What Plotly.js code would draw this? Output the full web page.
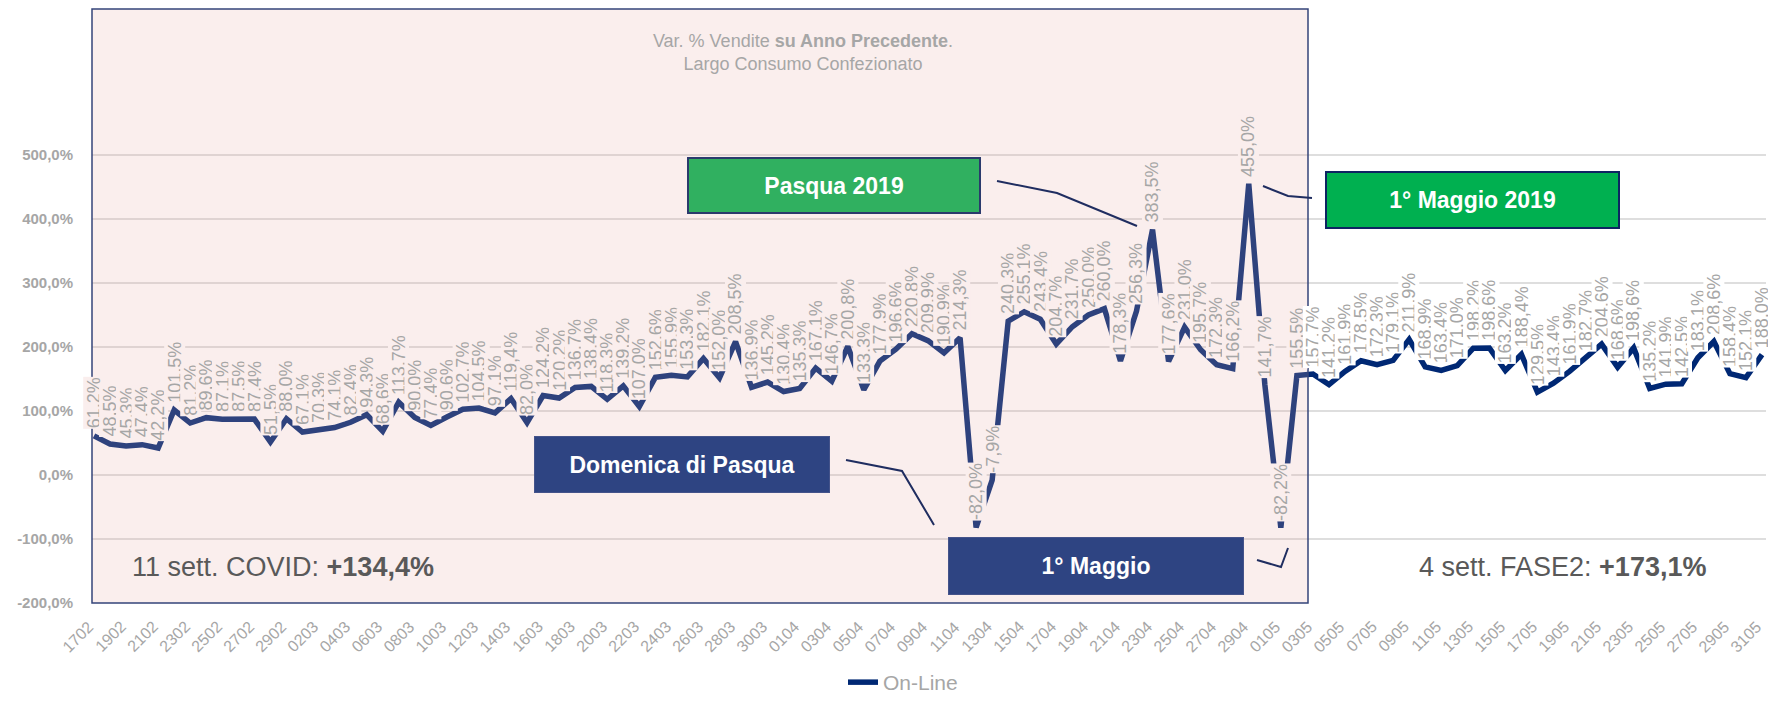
<!DOCTYPE html>
<html>
<head>
<meta charset="utf-8">
<script src="https://cdn.plot.ly/plotly-3.0.1.min.js"></script>
<style>
html,body{margin:0;padding:0;background:#ffffff;}
#chart{width:1768px;height:703px;}
</style>
</head>
<body>
<div id="chart"></div>
<script>
// ---- DATA ----
const days = [
  '1702','1802','1902','2002','2102','2202','2302','2402','2502','2602','2702','2802','2902',
  '0103','0203','0303','0403','0503','0603','0703','0803','0903','1003','1103','1203','1303','1403','1503','1603','1703','1803','1903','2003','2103','2203','2303','2403','2503','2603','2703','2803','2903','3003','3103',
  '0104','0204','0304','0404','0504','0604','0704','0804','0904','1004','1104','1204','1304','1404','1504','1604','1704','1804','1904','2004','2104','2204','2304','2404','2504','2604','2704','2804','2904','3004',
  '0105','0205','0305','0405','0505','0605','0705','0805','0905','1005','1105','1205','1305','1405','1505','1605','1705','1805','1905','2005','2105','2205','2305','2405','2505','2605','2705','2805','2905','3005','3105'
];
const online = [
  61.2, 48.5, 45.3, 47.4, 42.2, 101.5, 81.2, 89.6, 87.1, 87.5, 87.4, 51.5, 88.0,
  67.1, 70.3, 74.1, 82.4, 94.3, 68.6, 113.7, 90.0, 77.4, 90.6, 102.7, 104.5, 97.1, 119.4, 82.0,
  124.2, 120.2, 136.7, 138.4, 118.3, 139.2, 107.0, 152.6, 155.9, 153.3, 182.1, 152.0, 208.5, 136.9, 145.2, 130.4,
  135.3, 167.1, 146.7, 200.8, 133.3, 177.9, 196.6, 220.8, 209.9, 190.9, 214.3, -82.0, -7.9, 240.3, 255.1, 243.4,
  204.7, 231.7, 250.0, 260.0, 178.3, 256.3, 383.5, 177.6, 231.0, 195.7, 172.3, 166.2, 455.0, 141.7,
  -82.2, 155.5, 157.7, 141.2, 161.9, 178.5, 172.3, 179.1, 211.9, 168.9, 163.4, 171.0, 198.2, 198.6, 163.2,
  188.4, 129.5, 143.4, 161.9, 182.7, 204.6, 168.6, 198.6, 135.2, 141.9, 142.5, 183.1, 208.6, 158.4, 152.1, 188.0
];
const seriesName = 'On-Line';
const yTickVals = [-200, -100, 0, 100, 200, 300, 400, 500];
const yTickText = ['-200,0%', '-100,0%', '0,0%', '100,0%', '200,0%', '300,0%', '400,0%', '500,0%'];
const covidDays = 76; // points inside the shaded COVID period
const titleLines = ['Var. % Vendite <b>su Anno Precedente</b>.', 'Largo Consumo Confezionato'];
const summaryCovid = '11 sett. COVID: <b>+134,4%</b>';
const summaryFase2 = '4 sett. FASE2: <b>+173,1%</b>';
const boxLabels = ['Pasqua 2019', '1° Maggio 2019', 'Domenica di Pasqua', '1° Maggio'];

// category positions (index of each day) and every-other-day tick labels
const xIdx = days.map((d, i) => i);
const tickIdx = xIdx.filter(i => i % 2 === 0);
const tickDays = tickIdx.map(i => days[i]);

// ---- LAYOUT HELPERS (pixel -> paper) ----
const W = 1768, H = 703;
const M = {l: 92, r: 2, t: 9, b: 100};
const PW = W - M.l - M.r, PH = H - M.t - M.b;
const px = x => (x - M.l) / PW;
const py = y => (H - M.b - y) / PH;
const FONT = 'Liberation Sans, Arial, sans-serif';
const fmt = v => v.toFixed(1).replace('.', ',') + '%';

const annotations = [];

// data labels (vertical, above each point)
online.forEach((v, i) => {
  annotations.push({
    x: xIdx[i], y: v, xref: 'x', yref: 'y',
    text: fmt(v), textangle: -90, showarrow: false,
    xanchor: 'center', yanchor: 'bottom', yshift: 6,
    font: {family: FONT, size: 18, color: '#a6a6a6'},
    bgcolor: i < covidDays ? '#faeeed' : '#ffffff', borderpad: 0
  });
});

// slanted category labels under the x axis (every other day)
tickIdx.forEach((xi, k) => {
  annotations.push({
    x: xi, y: 0, xref: 'x', yref: 'paper',
    text: tickDays[k], textangle: -45, showarrow: false,
    xanchor: 'right', yanchor: 'top', xshift: 6, yshift: -12,
    font: {family: FONT, size: 16, color: '#a6a6a6'}
  });
});

function box(text, x0, y0, x1, y1, fill, border, bw) {
  annotations.push({
    xref: 'paper', yref: 'paper',
    x: px((x0 + x1) / 2), y: py((y0 + y1) / 2),
    xanchor: 'center', yanchor: 'middle', showarrow: false,
    text: '<b>' + text + '</b>',
    width: (x1 - x0) - 2 * bw, height: (y1 - y0) - 2 * bw,
    bgcolor: fill, bordercolor: border, borderwidth: bw, borderpad: 0,
    font: {family: FONT, size: 23, color: '#ffffff'}, align: 'center', valign: 'middle'
  });
}
box(boxLabels[0], 687, 157, 981, 214, '#30b060', '#2a3a6c', 2);
box(boxLabels[1], 1325, 171, 1620, 229, '#00b050', '#0d2462', 2);
box(boxLabels[2], 534, 436, 830, 493, '#2e4482', '#44538a', 1);
box(boxLabels[3], 948, 537, 1244, 595, '#2e4482', '#44538a', 1);

annotations.push({
  xref: 'paper', yref: 'paper', x: px(283), y: py(567), xanchor: 'center', yanchor: 'middle',
  showarrow: false, text: summaryCovid, font: {family: FONT, size: 27, color: '#595959'}
});
annotations.push({
  xref: 'paper', yref: 'paper', x: px(1562), y: py(567), xanchor: 'center', yanchor: 'middle',
  showarrow: false, text: summaryFase2, font: {family: FONT, size: 27, color: '#595959'}
});

function path(pts) {
  return 'M' + pts.map(p => px(p[0]).toFixed(5) + ',' + py(p[1]).toFixed(5)).join(' L');
}
const shapes = [
  {type: 'rect', xref: 'paper', yref: 'paper', layer: 'above',
   x0: 0, x1: px(1308), y0: py(603), y1: py(9),
   fillcolor: 'rgba(230,170,165,0.2)', line: {width: 0}},
  {type: 'rect', xref: 'paper', yref: 'paper', layer: 'above',
   x0: 0, x1: px(1308), y0: py(603), y1: py(9),
   fillcolor: 'rgba(0,0,0,0)', line: {color: '#34447a', width: 1.5}},
  {type: 'path', xref: 'paper', yref: 'paper', layer: 'above',
   path: path([[997, 181], [1057, 193], [1137, 226]]), line: {color: '#1f2d60', width: 2}},
  {type: 'path', xref: 'paper', yref: 'paper', layer: 'above',
   path: path([[1263, 186], [1288, 196], [1312, 198]]), line: {color: '#1f2d60', width: 2}},
  {type: 'path', xref: 'paper', yref: 'paper', layer: 'above',
   path: path([[846, 460], [902, 471], [934, 525]]), line: {color: '#1f2d60', width: 2}},
  {type: 'path', xref: 'paper', yref: 'paper', layer: 'above',
   path: path([[1257, 560], [1281, 567], [1288, 548]]), line: {color: '#1f2d60', width: 2}}
];

const trace = {
  type: 'scatter', mode: 'lines', name: seriesName,
  x: xIdx, y: online,
  line: {color: '#002874', width: 5.5},
  hoverinfo: 'skip'
};

const yTop = -200 + PH / 64 * 100;

const layout = {
  width: W, height: H,
  margin: M,
  paper_bgcolor: '#ffffff', plot_bgcolor: '#ffffff',
  font: {family: FONT},
  title: {
    text: titleLines.join('<br>'),
    xref: 'container', yref: 'container',
    x: 803 / W, xanchor: 'center', y: 1 - 47 / H, yanchor: 'top',
    font: {family: FONT, size: 18, color: '#a6a6a6'}
  },
  xaxis: {
    type: 'linear', range: [-0.125, 104.25],
    tickmode: 'array', tickvals: tickIdx, ticktext: tickDays,
    showticklabels: false, ticks: '',
    showgrid: false, showline: false, zeroline: false
  },
  yaxis: {
    range: [-200, yTop],
    tickmode: 'array', tickvals: yTickVals, ticktext: yTickText,
    tickfont: {family: FONT, size: 15, color: '#a6a6a6', weight: 'bold'},
    ticks: 'outside', ticklen: 15, tickcolor: 'rgba(0,0,0,0)',
    showgrid: true, gridcolor: '#dedede', gridwidth: 1.5,
    zeroline: false, showline: false
  },
  showlegend: true,
  legend: {
    orientation: 'h', xref: 'paper', yref: 'container',
    xanchor: 'center', yanchor: 'bottom',
    x: px(903), y: 0,
    font: {family: FONT, size: 21, color: '#a6a6a6'}
  },
  annotations: annotations,
  shapes: shapes
};

Plotly.newPlot('chart', [trace], layout, {displayModeBar: false, staticPlot: true});
</script>
</body>
</html>
